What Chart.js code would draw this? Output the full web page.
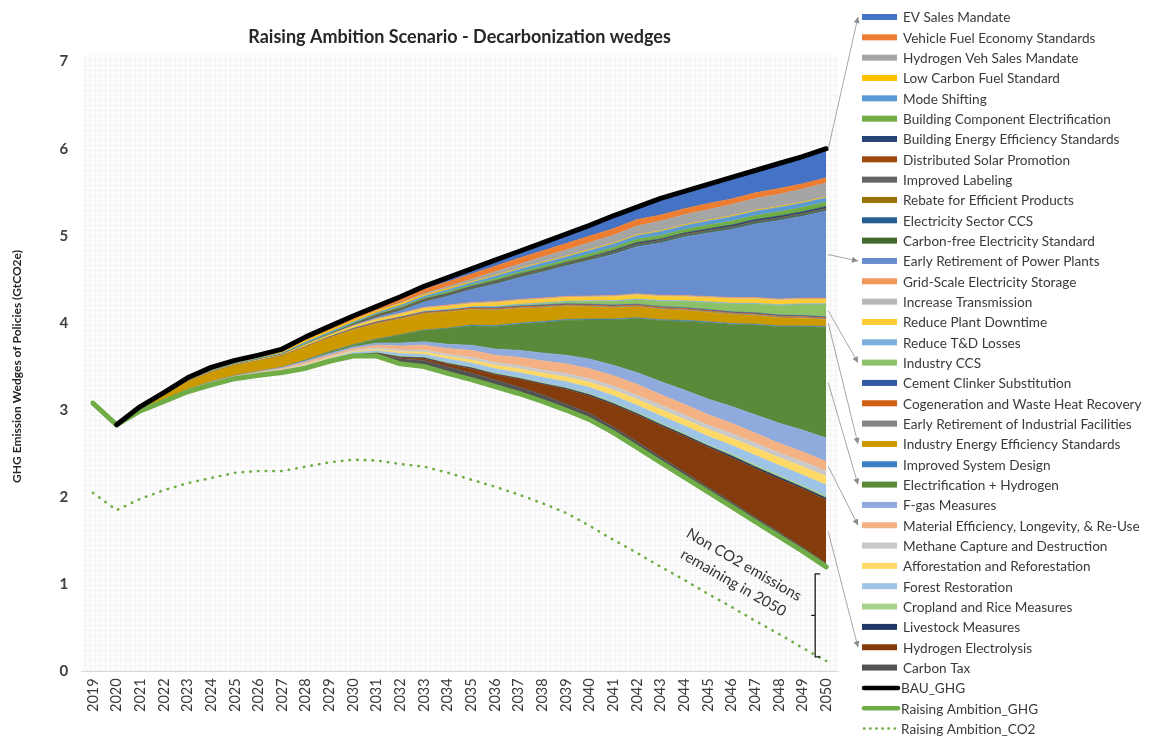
<!DOCTYPE html>
<html>
<head>
<meta charset="utf-8">
<title>Raising Ambition Scenario - Decarbonization wedges</title>
<script src="https://cdn.jsdelivr.net/npm/chart.js@4.4.1/dist/chart.umd.min.js"></script>
<style>
  html, body { margin: 0; padding: 0; background: #fff; }
  #wrap { width: 1152px; height: 736px; }
</style>
</head>
<body>
<div id="wrap"><canvas id="wedges" width="1152" height="736"></canvas></div>
<script>
'use strict';

const years = ['2019', '2020', '2021', '2022', '2023', '2024', '2025', '2026', '2027', '2028', '2029',
  '2030', '2031', '2032', '2033', '2034', '2035', '2036', '2037', '2038', '2039', '2040',
  '2041', '2042', '2043', '2044', '2045', '2046', '2047', '2048', '2049', '2050'];

// totals (GtCO2e)
const bauGhg = [null, 2.83, 3.04, 3.20, 3.37, 3.49, 3.57, 3.63, 3.70, 3.84, 3.96, 4.08, 4.19, 4.30, 4.42, 4.52,
  4.62, 4.72, 4.82, 4.92, 5.02, 5.12, 5.23, 5.33, 5.43, 5.51, 5.59, 5.67, 5.75, 5.83, 5.91, 6.00];
const raisingGhg = [3.08, 2.83, 2.99, 3.10, 3.21, 3.29, 3.36, 3.40, 3.43, 3.48, 3.56, 3.62, 3.62, 3.53, 3.50, 3.42,
  3.35, 3.27, 3.19, 3.10, 3.00, 2.89, 2.74, 2.57, 2.40, 2.23, 2.06, 1.89, 1.72, 1.55, 1.38, 1.20];
const raisingCo2 = [2.05, 1.85, 1.98, 2.08, 2.16, 2.22, 2.28, 2.30, 2.30, 2.35, 2.40, 2.43, 2.42, 2.38, 2.35, 2.28,
  2.20, 2.12, 2.03, 1.93, 1.82, 1.67, 1.51, 1.36, 1.20, 1.05, 0.89, 0.74, 0.58, 0.43, 0.27, 0.12];

// policy wedges, 2019..2050
const evSales = [0, 0, 0, 0, 0, 0, 0, 0, 0.005, 0.01, 0.015, 0.02, 0.025, 0.03, 0.035, 0.05,
  0.06, 0.07, 0.08, 0.095, 0.11, 0.125, 0.14, 0.16, 0.18, 0.20, 0.22, 0.24, 0.26, 0.29, 0.32, 0.35];
const vehicleFuel = [0, 0, 0.005, 0.01, 0.015, 0.02, 0.02, 0.02, 0.025, 0.03, 0.03, 0.03, 0.03, 0.04, 0.05, 0.055,
  0.06, 0.065, 0.07, 0.07, 0.075, 0.075, 0.075, 0.075, 0.07, 0.07, 0.07, 0.065, 0.065, 0.065, 0.06, 0.06];
const h2Vehicles = [0, 0, 0, 0, 0, 0, 0, 0, 0, 0, 0, 0, 0.005, 0.01, 0.015, 0.02,
  0.03, 0.04, 0.05, 0.06, 0.07, 0.08, 0.09, 0.10, 0.11, 0.115, 0.12, 0.13, 0.135, 0.14, 0.15, 0.16];
const lowCarbonFuel = [0, 0, 0.01, 0.01, 0.015, 0.015, 0.015, 0.015, 0.015, 0.02, 0.02, 0.02, 0.02, 0.02, 0.015, 0.015,
  0.01, 0.01, 0.01, 0.01, 0.01, 0.01, 0.01, 0.01, 0.01, 0.01, 0.01, 0.01, 0.01, 0.01, 0.01, 0.01];
const modeShifting = [0, 0, 0, 0.005, 0.005, 0.01, 0.01, 0.01, 0.01, 0.015, 0.015, 0.015, 0.015, 0.02, 0.02, 0.025,
  0.025, 0.03, 0.03, 0.035, 0.035, 0.04, 0.04, 0.04, 0.045, 0.045, 0.045, 0.05, 0.05, 0.05, 0.05, 0.05];
const buildingElectrification = [0, 0, 0, 0.005, 0.005, 0.005, 0.005, 0.005, 0.005, 0.01, 0.01, 0.01, 0.01, 0.015, 0.015, 0.02,
  0.02, 0.025, 0.025, 0.03, 0.03, 0.035, 0.035, 0.04, 0.04, 0.04, 0.045, 0.045, 0.045, 0.05, 0.05, 0.05];
const buildingEfficiency = [0, 0, 0, 0, 0, 0, 0, 0.005, 0.005, 0.005, 0.005, 0.005, 0.005, 0.005, 0.01, 0.01,
  0.01, 0.01, 0.01, 0.01, 0.01, 0.01, 0.015, 0.015, 0.015, 0.015, 0.015, 0.02, 0.02, 0.02, 0.02, 0.02];
const distributedSolar = [0, 0, 0, 0, 0, 0, 0, 0, 0, 0, 0, 0, 0.004, 0.004, 0.004, 0.004,
  0.004, 0.004, 0.004, 0.004, 0.004, 0.004, 0.004, 0.004, 0.004, 0.004, 0.004, 0.004, 0.004, 0.004, 0.004, 0.004];
const improvedLabeling = [0, 0, 0, 0, 0, 0, 0, 0, 0, 0, 0, 0, 0.004, 0.004, 0.004, 0.004,
  0.004, 0.004, 0.004, 0.004, 0.004, 0.004, 0.004, 0.004, 0.004, 0.004, 0.004, 0.004, 0.004, 0.004, 0.004, 0.004];
const efficientRebate = [0, 0, 0, 0, 0, 0, 0, 0, 0, 0, 0, 0, 0.004, 0.004, 0.004, 0.004,
  0.004, 0.004, 0.004, 0.004, 0.004, 0.004, 0.004, 0.004, 0.004, 0.004, 0.004, 0.004, 0.004, 0.004, 0.004, 0.004];
const electricityCcs = [0, 0, 0, 0, 0, 0, 0, 0, 0, 0, 0, 0, 0.005, 0.005, 0.005, 0.005,
  0.005, 0.005, 0.005, 0.005, 0.005, 0.005, 0.01, 0.01, 0.01, 0.01, 0.01, 0.01, 0.01, 0.01, 0.01, 0.01];
const carbonFreeStandard = [0, 0, 0, 0, 0, 0, 0, 0, 0, 0, 0, 0.005, 0.005, 0.005, 0.005, 0.005,
  0.005, 0.01, 0.01, 0.01, 0.01, 0.01, 0.01, 0.01, 0.01, 0.01, 0.01, 0.01, 0.01, 0.01, 0.01, 0.01];
const earlyRetirementPlants = [0, 0, 0, 0, 0, 0, 0, 0, 0, 0, 0, 0.005, 0.015, 0.03, 0.06, 0.10,
  0.15, 0.20, 0.25, 0.30, 0.35, 0.41, 0.47, 0.54, 0.60, 0.67, 0.73, 0.78, 0.845, 0.90, 0.94, 1.00];
const gridStorage = [0, 0, 0, 0, 0, 0, 0, 0, 0, 0, 0.005, 0.005, 0.005, 0.005, 0.01, 0.01,
  0.01, 0.01, 0.01, 0.01, 0.01, 0.01, 0.01, 0.01, 0.01, 0.01, 0.01, 0.01, 0.01, 0.01, 0.01, 0.01];
const increaseTransmission = [0, 0, 0, 0, 0, 0, 0, 0, 0, 0, 0, 0.005, 0.005, 0.005, 0.005, 0.005,
  0.005, 0.005, 0.005, 0.005, 0.005, 0.005, 0.005, 0.005, 0.005, 0.005, 0.005, 0.005, 0.005, 0.005, 0.005, 0.005];
const reduceDowntime = [0, 0, 0, 0, 0.005, 0.005, 0.005, 0.01, 0.01, 0.015, 0.015, 0.02, 0.025, 0.03, 0.03, 0.035,
  0.035, 0.04, 0.04, 0.04, 0.04, 0.04, 0.045, 0.045, 0.045, 0.045, 0.045, 0.05, 0.05, 0.05, 0.05, 0.05];
const reduceTdLosses = [0, 0, 0, 0, 0, 0, 0, 0, 0, 0.005, 0.005, 0.005, 0.005, 0.005, 0.01, 0.01,
  0.01, 0.01, 0.01, 0.01, 0.01, 0.01, 0.01, 0.01, 0.01, 0.01, 0.01, 0.01, 0.01, 0.01, 0.01, 0.01];
const industryCcs = [0, 0, 0, 0, 0, 0, 0, 0, 0, 0, 0, 0, 0, 0, 0, 0,
  0, 0.005, 0.01, 0.015, 0.02, 0.03, 0.04, 0.05, 0.06, 0.07, 0.08, 0.09, 0.10, 0.11, 0.125, 0.14];
const cementClinker = [0, 0, 0, 0, 0, 0, 0, 0, 0, 0, 0.005, 0.005, 0.005, 0.005, 0.005, 0.005,
  0.005, 0.01, 0.01, 0.01, 0.01, 0.01, 0.01, 0.01, 0.01, 0.01, 0.01, 0.01, 0.01, 0.01, 0.01, 0.01];
const cogeneration = [0, 0, 0, 0, 0, 0, 0, 0, 0.005, 0.005, 0.005, 0.005, 0.01, 0.01, 0.01, 0.01,
  0.01, 0.01, 0.01, 0.01, 0.01, 0.01, 0.01, 0.01, 0.01, 0.01, 0.01, 0.01, 0.01, 0.01, 0.01, 0.01];
const earlyRetirementIndustry = [0, 0, 0, 0, 0, 0, 0, 0, 0, 0, 0, 0.005, 0.005, 0.005, 0.005, 0.005,
  0.005, 0.01, 0.01, 0.01, 0.01, 0.01, 0.01, 0.01, 0.01, 0.01, 0.01, 0.01, 0.01, 0.01, 0.01, 0.01];
const industryEfficiency = [0, 0, 0.03, 0.06, 0.09, 0.11, 0.12, 0.12, 0.13, 0.15, 0.16, 0.17, 0.175, 0.18, 0.185, 0.185,
  0.18, 0.175, 0.17, 0.16, 0.15, 0.14, 0.13, 0.125, 0.12, 0.115, 0.11, 0.105, 0.10, 0.095, 0.09, 0.08];
const systemDesign = [0, 0, 0, 0, 0, 0, 0, 0, 0, 0.005, 0.005, 0.005, 0.005, 0.005, 0.005, 0.005,
  0.01, 0.01, 0.01, 0.01, 0.01, 0.01, 0.01, 0.01, 0.01, 0.01, 0.01, 0.01, 0.01, 0.01, 0.01, 0.01];
const electrificationHydrogen = [0, 0, 0, 0, 0, 0, 0, 0, 0, 0.005, 0.015, 0.02, 0.04, 0.09, 0.13, 0.18,
  0.22, 0.26, 0.30, 0.35, 0.40, 0.45, 0.52, 0.62, 0.70, 0.79, 0.875, 0.94, 1.03, 1.105, 1.185, 1.27];
const fgasMeasures = [0, 0, 0, 0, 0, 0.005, 0.005, 0.005, 0.01, 0.015, 0.02, 0.02, 0.025, 0.035, 0.04, 0.05,
  0.06, 0.07, 0.08, 0.09, 0.10, 0.11, 0.12, 0.135, 0.15, 0.165, 0.18, 0.195, 0.21, 0.23, 0.25, 0.27];
const materialEfficiency = [0, 0, 0, 0, 0.005, 0.005, 0.005, 0.01, 0.01, 0.02, 0.02, 0.02, 0.03, 0.045, 0.055, 0.065,
  0.08, 0.085, 0.095, 0.105, 0.11, 0.115, 0.12, 0.125, 0.12, 0.12, 0.12, 0.115, 0.115, 0.11, 0.11, 0.11];
const methaneCapture = [0, 0, 0, 0.005, 0.005, 0.01, 0.01, 0.01, 0.01, 0.01, 0.01, 0.015, 0.02, 0.02, 0.025, 0.025,
  0.03, 0.03, 0.035, 0.035, 0.04, 0.04, 0.045, 0.045, 0.05, 0.05, 0.05, 0.055, 0.055, 0.055, 0.06, 0.06];
const afforestation = [0, 0, 0, 0, 0.005, 0.005, 0.005, 0.005, 0.005, 0.01, 0.01, 0.01, 0.015, 0.02, 0.025, 0.03,
  0.035, 0.04, 0.045, 0.05, 0.055, 0.06, 0.065, 0.07, 0.072, 0.075, 0.078, 0.082, 0.086, 0.09, 0.095, 0.10];
const forestRestoration = [0, 0, 0.005, 0.005, 0.01, 0.01, 0.01, 0.01, 0.015, 0.02, 0.02, 0.02, 0.02, 0.03, 0.03, 0.04,
  0.045, 0.05, 0.055, 0.06, 0.065, 0.07, 0.075, 0.08, 0.085, 0.09, 0.095, 0.10, 0.11, 0.115, 0.12, 0.13];
const croplandRice = [0, 0, 0, 0, 0, 0, 0, 0.005, 0.005, 0.005, 0.005, 0.005, 0.005, 0.01, 0.01, 0.01,
  0.01, 0.01, 0.01, 0.01, 0.01, 0.015, 0.015, 0.015, 0.015, 0.015, 0.015, 0.02, 0.02, 0.02, 0.02, 0.02];
const livestock = [0, 0, 0, 0, 0, 0, 0, 0, 0.005, 0.005, 0.005, 0.005, 0.005, 0.01, 0.01, 0.01,
  0.01, 0.01, 0.01, 0.01, 0.01, 0.015, 0.015, 0.015, 0.015, 0.015, 0.015, 0.02, 0.02, 0.02, 0.02, 0.02];
const hydrogenElectrolysis = [0, 0, 0, 0, 0, 0, 0, 0, 0, 0, 0, 0, 0.005, 0.01, 0.02, 0.03,
  0.05, 0.06, 0.09, 0.12, 0.17, 0.20, 0.255, 0.31, 0.36, 0.41, 0.46, 0.51, 0.56, 0.61, 0.67, 0.73];
const carbonTax = [0, 0, 0, 0, 0, 0, 0, 0, 0, 0, 0, 0.01, 0.025, 0.06, 0.07, 0.075,
  0.075, 0.075, 0.075, 0.075, 0.07, 0.07, 0.065, 0.065, 0.06, 0.06, 0.055, 0.055, 0.05, 0.05, 0.045, 0.04];

// legend order, top of the stack first
const policyNames = [
  'EV Sales Mandate', 'Vehicle Fuel Economy Standards', 'Hydrogen Veh Sales Mandate', 'Low Carbon Fuel Standard',
  'Mode Shifting', 'Building Component Electrification', 'Building Energy Efficiency Standards',
  'Distributed Solar Promotion', 'Improved Labeling', 'Rebate for Efficient Products', 'Electricity Sector CCS',
  'Carbon-free Electricity Standard', 'Early Retirement of Power Plants', 'Grid-Scale Electricity Storage',
  'Increase Transmission', 'Reduce Plant Downtime', 'Reduce T&D Losses', 'Industry CCS',
  'Cement Clinker Substitution', 'Cogeneration and Waste Heat Recovery', 'Early Retirement of Industrial Facilities',
  'Industry Energy Efficiency Standards', 'Improved System Design', 'Electrification + Hydrogen', 'F-gas Measures',
  'Material Efficiency, Longevity, & Re-Use', 'Methane Capture and Destruction', 'Afforestation and Reforestation',
  'Forest Restoration', 'Cropland and Rice Measures', 'Livestock Measures', 'Hydrogen Electrolysis', 'Carbon Tax'
];
const policyValues = [
  evSales, vehicleFuel, h2Vehicles, lowCarbonFuel, modeShifting, buildingElectrification, buildingEfficiency,
  distributedSolar, improvedLabeling, efficientRebate, electricityCcs, carbonFreeStandard, earlyRetirementPlants,
  gridStorage, increaseTransmission, reduceDowntime, reduceTdLosses, industryCcs, cementClinker, cogeneration,
  earlyRetirementIndustry, industryEfficiency, systemDesign, electrificationHydrogen, fgasMeasures,
  materialEfficiency, methaneCapture, afforestation, forestRestoration, croplandRice, livestock,
  hydrogenElectrolysis, carbonTax
];
const policyColors = [
  '#4472C4', '#ED7D31', '#A5A5A5', '#FFC000', '#5B9BD5', '#70AD47', '#264478', '#9E480E', '#636363', '#997300',
  '#255E91', '#43682B', '#698ED0', '#F1975A', '#B7B7B7', '#FFCD33', '#7CAFDD', '#8CC168', '#335AA1', '#D26012',
  '#848484', '#CC9A00', '#3C80C6', '#5A8A39', '#8FAADC', '#F4B183', '#C9C9C9', '#FFD966', '#9DC3E6', '#A9D18E',
  '#203864', '#843C0C', '#525252'
];

// wedges that get a leader line to their legend row
const calledOut = ['EV Sales Mandate', 'Early Retirement of Power Plants', 'Industry CCS',
  'Industry Energy Efficiency Standards', 'Electrification + Hydrogen',
  'Material Efficiency, Longevity, & Re-Use', 'Hydrogen Electrolysis'];

const GREEN = '#70AD47';
const FONT = 'Lato';
const legendTop = 17, legendStep = 20.33, swatchX = 862, textX = 903;

Chart.defaults.font.family = FONT;
Chart.defaults.color = '#404040';

// fine grey grid behind the plot
const tile = document.createElement('canvas');
tile.width = 5; tile.height = 5;
const tctx = tile.getContext('2d');
tctx.fillStyle = '#fdfdfd';
tctx.fillRect(0, 0, 5, 5);
tctx.fillStyle = '#f3f3f3';
tctx.fillRect(0, 0, 5, 1);
tctx.fillRect(0, 0, 1, 5);

const plotBackground = {
  id: 'plotBackground',
  beforeDraw(chart) {
    const { ctx, chartArea: a } = chart;
    ctx.save();
    ctx.fillStyle = ctx.createPattern(tile, 'repeat');
    ctx.fillRect(a.left + 2, a.top - 6, a.right - a.left - 2, a.bottom - a.top + 6);
    ctx.restore();
  }
};

function arrowHead(ctx, x0, y0, x1, y1) {
  const ang = Math.atan2(y1 - y0, x1 - x0);
  ctx.beginPath();
  ctx.moveTo(x1, y1);
  ctx.lineTo(x1 - 6 * Math.cos(ang) + 3 * Math.sin(ang), y1 - 6 * Math.sin(ang) - 3 * Math.cos(ang));
  ctx.lineTo(x1 - 6 * Math.cos(ang) - 3 * Math.sin(ang), y1 - 6 * Math.sin(ang) + 3 * Math.cos(ang));
  ctx.closePath();
  ctx.fill();
}

const overlay = {
  id: 'overlay',
  afterDraw(chart) {
    const { ctx, scales: { x, y } } = chart;
    const last = years.length - 1;
    const rowY = i => legendTop + i * legendStep;
    ctx.save();

    // legend
    ctx.font = '13.6px ' + FONT;
    ctx.textBaseline = 'middle';
    policyNames.forEach((name, i) => {
      ctx.fillStyle = policyColors[i];
      ctx.fillRect(swatchX, rowY(i) - 3, 35, 6);
      ctx.fillStyle = '#3a3a3a';
      ctx.fillText(name, textX, rowY(i) + 1);
    });
    const lineKeys = [
      { label: 'BAU_GHG', color: '#000', width: 4.5, dash: [] },
      { label: 'Raising Ambition_GHG', color: GREEN, width: 4.5, dash: [] },
      { label: 'Raising Ambition_CO2', color: GREEN, width: 2.4, dash: [0.5, 5.6] }
    ];
    lineKeys.forEach((k, j) => {
      const ry = rowY(policyNames.length + j);
      ctx.beginPath();
      ctx.strokeStyle = k.color;
      ctx.lineWidth = k.width;
      ctx.lineCap = 'round';
      ctx.setLineDash(k.dash);
      ctx.moveTo(swatchX + 2, ry);
      ctx.lineTo(swatchX + 36, ry);
      ctx.stroke();
      ctx.setLineDash([]);
      ctx.fillStyle = '#3a3a3a';
      ctx.fillText(k.label, textX - 2, ry + 1);
    });

    // leader lines from the 2050 end of some wedges
    ctx.strokeStyle = '#a6a6a6';
    ctx.fillStyle = '#8c8c8c';
    ctx.lineWidth = 1;
    ctx.lineCap = 'butt';
    calledOut.forEach(name => {
      const p = policyNames.indexOf(name);
      const ds = chart.data.datasets.findIndex(d => d.label === name);
      const top = chart.getDatasetMeta(ds).data[last];
      const below = chart.getDatasetMeta(ds - 1).data[last];
      const sx = top.x + 2;
      const sy = p === 0 ? top.y + 2 : (top.y + below.y) / 2;
      const ex = swatchX - 4, ey = rowY(p);
      ctx.beginPath();
      ctx.moveTo(sx, sy);
      ctx.lineTo(ex, ey);
      ctx.stroke();
      arrowHead(ctx, sx, sy, ex, ey);
    });

    // bracket spanning the non-CO2 gap in 2050
    const bx = x.getPixelForValue(last) - 11;
    const yTop = y.getPixelForValue(raisingGhg[last]) + 7;
    const yBot = y.getPixelForValue(raisingCo2[last]) - 4;
    const yMid = (yTop + yBot) / 2;
    ctx.strokeStyle = '#1a1a1a';
    ctx.lineWidth = 1.3;
    ctx.beginPath();
    ctx.moveTo(bx + 5, yTop);
    ctx.lineTo(bx, yTop);
    ctx.lineTo(bx, yBot);
    ctx.lineTo(bx + 5, yBot);
    ctx.moveTo(bx, yMid);
    ctx.lineTo(bx - 4, yMid);
    ctx.stroke();

    // slanted note
    const ax = x.getPixelForValue(last - 3.7);
    const ay = y.getPixelForValue(1.12);
    ctx.translate(ax, ay);
    ctx.rotate(30 * Math.PI / 180);
    ctx.font = '15px ' + FONT;
    ctx.fillStyle = '#333';
    ctx.textAlign = 'center';
    ctx.fillText('Non CO2 emissions', 0, -10.5);
    ctx.fillText('remaining in 2050', 0, 10.5);
    ctx.restore();
  }
};

const wedgeSets = policyNames.map((name, i) => ({
  label: name,
  data: policyValues[i],
  backgroundColor: policyColors[i],
  borderColor: policyColors[i],
  borderWidth: 0.6,
  pointRadius: 0,
  fill: '-1',
  stack: 'wedges'
})).reverse();

const datasets = [
  {
    label: 'BAU_GHG', data: bauGhg, stack: 'bau', fill: false,
    borderColor: '#000', borderWidth: 5, borderCapStyle: 'round', borderJoinStyle: 'round', pointRadius: 0
  },
  {
    label: 'Raising Ambition_CO2', data: raisingCo2, stack: 'co2', fill: false,
    borderColor: GREEN, borderWidth: 2.6, borderDash: [0.5, 7.2], borderCapStyle: 'round', pointRadius: 0
  },
  {
    label: 'Raising Ambition_GHG', data: raisingGhg, stack: 'wedges', fill: false,
    borderColor: GREEN, borderWidth: 5, borderCapStyle: 'round', borderJoinStyle: 'round', pointRadius: 0
  },
  ...wedgeSets
];

new Chart(document.getElementById('wedges'), {
  type: 'line',
  data: { labels: years, datasets },
  options: {
    responsive: false,
    animation: false,
    events: [],
    layout: { padding: { left: 8, right: 314, top: 0, bottom: 17 } },
    plugins: {
      legend: { display: false },
      tooltip: { enabled: false },
      title: {
        display: true,
        text: 'Raising Ambition Scenario - Decarbonization wedges',
        fullSize: false,
        color: '#262626',
        font: { size: 18, weight: 'bold' },
        padding: { top: 26, bottom: 14 }
      }
    },
    scales: {
      x: {
        offset: true,
        grid: { display: false, drawTicks: false },
        border: { display: true, color: '#d9d9d9' },
        ticks: { autoSkip: false, minRotation: 90, maxRotation: 90, padding: 7, color: '#3a3a3a', font: { size: 14.5 } }
      },
      y: {
        stacked: true,
        min: 0,
        max: 7,
        grid: { display: false, drawTicks: false },
        border: { display: false },
        ticks: { stepSize: 1, padding: 13, color: '#404040', font: { size: 15, weight: 'bold' } },
        title: {
          display: true,
          text: 'GHG Emission Wedges of Policies (GtCO2e)',
          color: '#262626',
          font: { size: 12, weight: 'bold' },
          padding: { top: 2, bottom: 22 }
        }
      }
    }
  },
  plugins: [plotBackground, overlay]
});
</script>
</body>
</html>
